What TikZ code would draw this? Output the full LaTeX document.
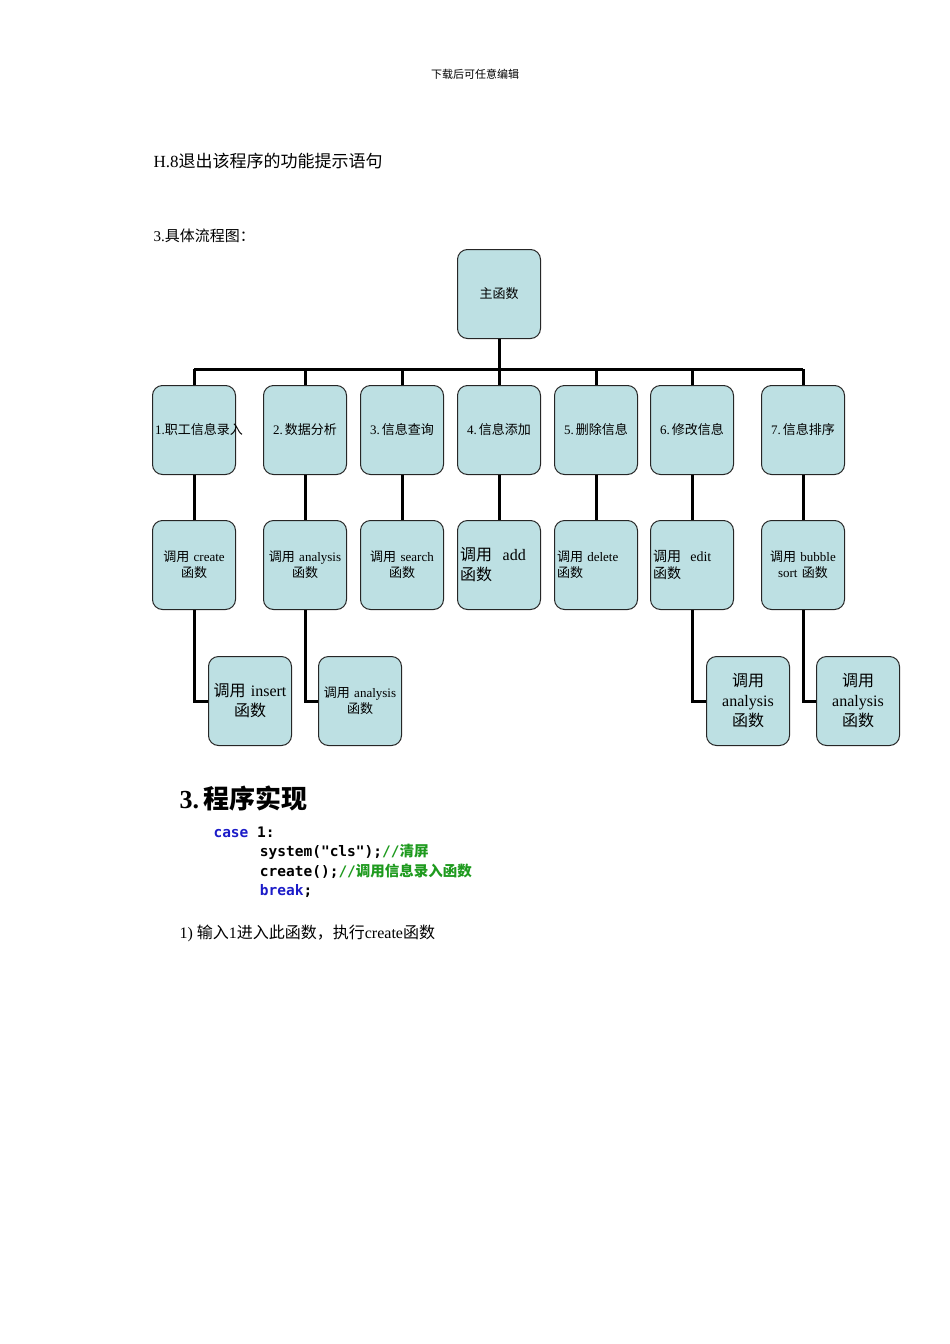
\documentclass[tikz,border=0pt]{standalone}
\usepackage{fontspec}
\setmainfont{Liberation Serif}
\newfontfamily\cjk{Noto Sans CJK SC}
\newfontfamily\cmono{DejaVu Sans Mono}
\newcommand{\zh}[1]{{\cjk #1}}
\definecolor{boxfill}{HTML}{BDE0E3}
\definecolor{kw}{HTML}{1C1CC8}
\definecolor{cm}{HTML}{1E9A1E}
\tikzset{
  fbox/.style={draw=black!85, line width=1pt, fill=boxfill, rounded corners=10pt, minimum width=83pt, minimum height=89pt, text width=78pt, align=center, font=\fontsize{13}{16}\selectfont, inner sep=2pt},
  link/.style={line width=3pt},
}
\begin{document}
\begin{tikzpicture}[x=1pt,y=-1pt]
\useasboundingbox (0,0) rectangle (950,1344);
\node (hdr) at (475,74) {\fontsize{11}{13}\selectfont\zh{下载后可任意编辑}};
\node[anchor=west] (h8) at (150,161) {\fontsize{17}{20}\selectfont H.8\zh{退出该程序的功能提示语句}};
\node[anchor=west] (t3) at (150,236) {\fontsize{15}{18}\selectfont 3.\zh{具体流程图：}};

\coordinate (bus) at (499,369);
\node[fbox] (m) at (499,294) {\zh{主函数}};
\foreach \n/\x/\t in {a/194/{1.\zh{职工信息录入}}, b/305/{2.\,\zh{数据分析}}, c/402/{3.\,\zh{信息查询}}, d/499/{4.\,\zh{信息添加}}, e/596/{5.\,\zh{删除信息}}, f/692/{6.\,\zh{修改信息}}, g/803/{7.\,\zh{信息排序}}}{
  \node[fbox] (\n1) at (\x,430) {\t};
  \coordinate (\n0) at (\x,369);
}
\node[fbox] (a2) at (194,565) {\zh{调用} create \zh{函数}};
\node[fbox] (b2) at (305,565) {\zh{调用} analysis \zh{函数}};
\node[fbox] (c2) at (402,565) {\zh{调用} search \zh{函数}};
\node[fbox,font=\fontsize{16}{20}\selectfont,align=left] (d2) at (499,565) {\zh{调用}\ \ add \zh{函数}};
\node[fbox,align=left] (e2) at (596,565) {\zh{调用} delete \zh{函数}};
\node[fbox,font=\fontsize{14}{17}\selectfont,align=left] (f2) at (692,565) {\zh{调用}\ \ edit \zh{函数}};
\node[fbox] (g2) at (803,565) {\zh{调用} bubble sort \zh{函数}};
\node[fbox,font=\fontsize{16}{20}\selectfont] (a3) at (250,701) {\zh{调用} insert \zh{函数}};
\node[fbox] (b3) at (360,701) {\zh{调用} analysis \zh{函数}};
\node[fbox,font=\fontsize{16}{20}\selectfont] (f3) at (748,701) {\zh{调用} analysis \zh{函数}};
\node[fbox,font=\fontsize{16}{20}\selectfont] (g3) at (858,701) {\zh{调用} analysis \zh{函数}};

\begin{scope}[on background layer/.try]
\end{scope}
\draw[link] (m.south) -- (bus);
\draw[link] (a0) -- (g0);
\foreach \n in {a,b,c,d,e,f,g}{\draw[link] (\n0) -- (\n1.north); \draw[link] (\n1.south) -- (\n2.north);}
\foreach \n in {a,b,f,g}{\draw[link] (\n2.south) |- (\n3.west);}

\node[anchor=west] (s3) at (176,798) {\fontsize{26}{30}\selectfont\bfseries 3.\,\zh{程序实现}};
\node[anchor=west, align=left, font=\cmono\bfseries\fontsize{14.5}{19.5}\selectfont] (code) at (210,862)
 {\textcolor{kw}{case} 1:\\
  \hspace*{3.2em}system("cls");\textcolor{cm}{//\zh{清屏}}\\
  \hspace*{3.2em}create();\textcolor{cm}{//\zh{调用信息录入函数}}\\
  \hspace*{3.2em}\textcolor{kw}{break};};
\node[anchor=west] (p1) at (176,933) {\fontsize{16}{19}\selectfont 1)\ \zh{输入}1\zh{进入此函数，执行}create\zh{函数}};
\end{tikzpicture}
\end{document}
